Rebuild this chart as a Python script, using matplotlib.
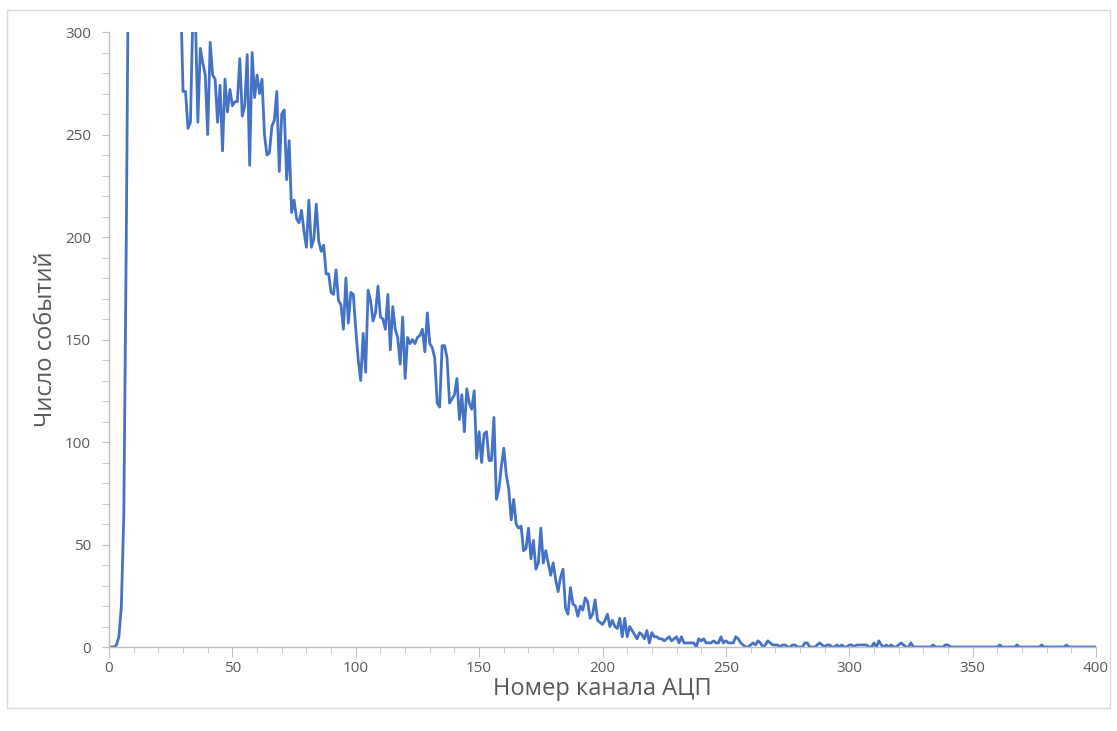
import numpy as np
import matplotlib.pyplot as plt
from matplotlib.patches import Rectangle
from matplotlib.ticker import MultipleLocator


# ============================================================
# DATA (one value per ADC channel)
# ============================================================

# channels 8-29 run off the top of the chart (clipped at 300)
counts = [
    0, 0, 0, 1, 5, 20, 65, 200, 360, 420,             # 0
    460, 480, 490, 470, 460, 450, 440, 430, 420, 410,  # 10
    400, 390, 380, 370, 360, 350, 340, 335, 330, 320,  # 20
    271, 271, 253, 256, 310, 308, 256, 292, 285, 279,  # 30
    250, 295, 279, 277, 256, 274, 242, 277, 261, 272,  # 40
    264, 266, 266, 287, 259, 264, 289, 235, 290, 268,  # 50
    279, 270, 277, 250, 240, 241, 254, 257, 271, 232,  # 60
    260, 262, 228, 247, 212, 218, 209, 207, 213, 203,  # 70
    195, 218, 195, 199, 216, 198, 193, 196, 182, 182,  # 80
    173, 172, 184, 169, 167, 155, 180, 158, 173, 172,  # 90
    155, 140, 130, 153, 134, 174, 169, 159, 163, 176,  # 100
    161, 160, 155, 172, 145, 166, 155, 151, 138, 161,  # 110
    131, 151, 148, 150, 148, 151, 152, 155, 144, 163,  # 120
    148, 146, 141, 119, 117, 147, 147, 141, 119, 121,  # 130
    123, 131, 111, 123, 105, 126, 119, 116, 125, 92,   # 140
    105, 90, 104, 105, 91, 91, 112, 72, 77, 88,        # 150
    97, 84, 77, 62, 72, 60, 58, 59, 47, 48,            # 160
    58, 43, 52, 38, 41, 58, 41, 47, 41, 35,            # 170
    41, 33, 27, 34, 38, 19, 16, 29, 21, 20,            # 180
    15, 20, 18, 24, 22, 14, 16, 23, 13, 12,            # 190
    11, 13, 16, 10, 13, 10, 9, 14, 5, 14,              # 200
    5, 10, 8, 6, 4, 7, 6, 4, 8, 2,                     # 210
    7, 5, 5, 4, 4, 3, 4, 5, 3, 4,                      # 220
    5, 2, 5, 2, 2, 2, 2, 2, 0, 4,                      # 230
    3, 4, 2, 2, 2, 3, 2, 2, 5, 2,                      # 240
    3, 2, 2, 2, 5, 4, 2, 1, 0, 0,                      # 250
    1, 2, 1, 3, 2, 0, 1, 3, 2, 1,                      # 260
    1, 1, 0, 1, 1, 0, 0, 1, 1, 0,                      # 270
    0, 0, 2, 2, 0, 0, 0, 1, 2, 1,                      # 280
    0, 1, 1, 0, 0, 1, 0, 1, 0, 0,                      # 290
    1, 1, 0, 1, 1, 1, 1, 1, 0, 0,                      # 300
    2, 0, 3, 1, 0, 1, 0, 1, 0, 0,                      # 310
    1, 2, 1, 0, 0, 2, 0, 0, 0, 0,                      # 320
    0, 0, 0, 0, 1, 0, 0, 0, 0, 1,                      # 330
    1, 0, 0, 0, 0, 0, 0, 0, 0, 0,                      # 340
    0, 0, 0, 0, 0, 0, 0, 0, 0, 0,                      # 350
    0, 1, 0, 0, 0, 0, 0, 0, 1, 0,                      # 360
    0, 0, 0, 0, 0, 0, 0, 0, 1, 0,                      # 370
    0, 0, 0, 0, 0, 0, 0, 0, 1, 0,                      # 380
    0, 0, 0, 0, 0, 0, 0, 0, 0, 0,                      # 390
    0,                                                 # 400
]
channels = np.arange(len(counts))

x_label = "Номер канала АЦП"
y_label = "Число событий"

LINE = "#4472C4"
TEXT = "#595959"
AXIS = "#BFBFBF"

# ============================================================
# PLOT
# ============================================================

plt.rcParams["font.family"] = ["Open Sans", "DejaVu Sans"]

fig = plt.figure(figsize=(11.17, 7.31), dpi=100)
ax = fig.add_axes([0.0976, 0.1149, 0.8836, 0.8413])

ax.plot(channels, counts, color=LINE, linewidth=2.0, solid_joinstyle="round")

ax.set_xlim(0, 400)
ax.set_ylim(0, 300)
ax.xaxis.set_major_locator(MultipleLocator(50))
ax.xaxis.set_minor_locator(MultipleLocator(10))
ax.yaxis.set_major_locator(MultipleLocator(50))
ax.yaxis.set_minor_locator(MultipleLocator(10))

for side in ("top", "right"):
    ax.spines[side].set_visible(False)
for side in ("left", "bottom"):
    ax.spines[side].set_color(AXIS)
    ax.spines[side].set_linewidth(1.0)

ax.tick_params(axis="x", which="major", length=7, color=AXIS, labelcolor=TEXT,
               labelsize=11, pad=3)
ax.tick_params(axis="x", which="minor", length=4, color=AXIS)
ax.tick_params(axis="y", which="major", length=5, color=AXIS, labelcolor=TEXT,
               labelsize=11, pad=8)
ax.tick_params(axis="y", which="minor", length=5, color=AXIS)

ax.set_xlabel(x_label, fontsize=17, color=TEXT, labelpad=1)
ax.set_ylabel(y_label, fontsize=17, color=TEXT, labelpad=5)

# light frame around the whole chart
fig.patches.append(Rectangle((7 / 1117, 1 - 708 / 731), 1103 / 1117, 698 / 731,
                             transform=fig.transFigure, fill=False,
                             edgecolor="#D9D9D9", linewidth=1.0))

fig.savefig("out.png", dpi=100, facecolor="white")
